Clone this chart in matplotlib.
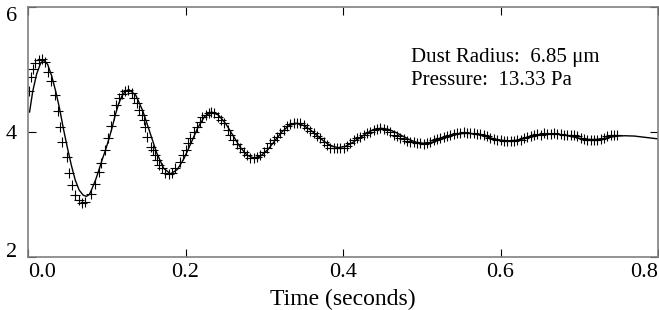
import matplotlib
matplotlib.use("Agg")
import matplotlib.pyplot as plt

meas_t = [0.0019, 0.0044, 0.0061, 0.0095, 0.0137, 0.0180, 0.0213, 0.0248, 0.0286, 0.0340,
          0.0378, 0.0400, 0.0434, 0.0489, 0.0518, 0.0561, 0.0603, 0.0645, 0.0688, 0.0730,
          0.0794, 0.0857, 0.0899, 0.0933, 0.0975, 0.1018, 0.1057, 0.1090, 0.1120, 0.1153,
          0.1196, 0.1238, 0.1272,
          0.1323, 0.1352, 0.1387, 0.1407, 0.1450, 0.1470, 0.1492, 0.1514, 0.1564, 0.1590,
          0.1619, 0.1632, 0.1661, 0.1704, 0.1746, 0.1788, 0.1831, 0.1873, 0.1928, 0.1971,
          0.2000, 0.2034, 0.2063, 0.2105, 0.2140, 0.2182, 0.2212, 0.2254, 0.2296, 0.2330,
          0.2368, 0.2410, 0.2453, 0.2486, 0.2537, 0.2571, 0.2606,
          0.2654, 0.2698, 0.2740, 0.2783, 0.2825, 0.2867, 0.2910, 0.2952, 0.2994, 0.3037,
          0.3079, 0.3121, 0.3164, 0.3206, 0.3248, 0.3291, 0.3333, 0.3375, 0.3418, 0.3460,
          0.3502, 0.3545, 0.3587, 0.3629, 0.3672, 0.3714, 0.3756, 0.3799, 0.3841, 0.3883,
          0.3926,
          0.3968, 0.4010, 0.4053, 0.4095, 0.4137, 0.4180, 0.4222, 0.4264, 0.4307, 0.4349,
          0.4391, 0.4434, 0.4476, 0.4518, 0.4561, 0.4603, 0.4645, 0.4688, 0.4730, 0.4772,
          0.4815, 0.4857, 0.4899, 0.4942, 0.4984, 0.5026, 0.5069, 0.5111, 0.5153, 0.5196,
          0.5238, 0.5280,
          0.5323, 0.5365, 0.5407, 0.5450, 0.5492, 0.5534, 0.5577, 0.5619, 0.5661, 0.5704,
          0.5746, 0.5788, 0.5831, 0.5873, 0.5915, 0.5958, 0.6000, 0.6042, 0.6085, 0.6127,
          0.6169, 0.6212, 0.6254, 0.6296, 0.6339, 0.6381, 0.6423, 0.6466, 0.6508, 0.6550,
          0.6593,
          0.6635, 0.6677, 0.6720, 0.6762, 0.6804, 0.6847, 0.6889, 0.6931, 0.6974, 0.7016,
          0.7058, 0.7101, 0.7143, 0.7185, 0.7228, 0.7270, 0.7312, 0.7355, 0.7397, 0.7439,
          0.7482]
meas_y = [4.66, 4.88, 5.01, 5.10, 5.15, 5.17, 5.12, 4.96, 4.82, 4.59,
          4.34, 4.08, 3.84, 3.60, 3.35, 3.16, 2.99, 2.91, 2.87, 2.88,
          3.01, 3.17, 3.36, 3.50, 3.71, 3.91, 4.10, 4.28, 4.43, 4.54,
          4.61, 4.66, 4.68,
          4.63, 4.54, 4.47, 4.36, 4.27, 4.19, 4.08, 3.92, 3.76, 3.71,
          3.63, 3.55, 3.48, 3.42, 3.35, 3.33, 3.35, 3.42, 3.52, 3.63,
          3.71, 3.83, 3.90, 4.00, 4.08, 4.16, 4.24, 4.27, 4.31, 4.32,
          4.30, 4.24, 4.20, 4.14, 4.04, 3.95, 3.87,
          3.81, 3.75, 3.68, 3.63, 3.59, 3.58, 3.60, 3.63, 3.68, 3.74,
          3.82, 3.87, 3.92, 3.99, 4.04, 4.10, 4.13, 4.15, 4.15, 4.14,
          4.11, 4.06, 4.02, 3.98, 3.94, 3.90, 3.84, 3.79, 3.75, 3.74,
          3.74,
          3.74, 3.75, 3.77, 3.82, 3.87, 3.90, 3.92, 3.95, 3.98, 4.00,
          4.03, 4.05, 4.06, 4.05, 4.03, 4.00, 3.96, 3.94, 3.91, 3.89,
          3.86, 3.84, 3.84, 3.82, 3.82, 3.81, 3.82, 3.84, 3.87, 3.89,
          3.91, 3.92,
          3.94, 3.96, 3.97, 3.98, 3.98, 4.00, 3.99, 3.98, 3.99, 3.97,
          3.97, 3.95, 3.93, 3.91, 3.89, 3.88, 3.87, 3.86, 3.85, 3.86,
          3.86, 3.87, 3.88, 3.90, 3.92, 3.94, 3.95, 3.97, 3.96, 3.98,
          3.97,
          3.97, 3.98, 3.97, 3.97, 3.96, 3.96, 3.95, 3.95, 3.93, 3.91,
          3.89, 3.88, 3.87, 3.88, 3.87, 3.89, 3.90, 3.93, 3.95, 3.96,
          3.95]

# fitted curve
fit_t = [0.002, 0.006, 0.011, 0.016, 0.020, 0.025, 0.030, 0.035, 0.040, 0.045,
         0.050, 0.055, 0.060, 0.065, 0.070, 0.074, 0.078, 0.0815, 0.086, 0.090,
         0.094, 0.0984, 0.103, 0.107, 0.111, 0.1153, 0.1195, 0.1238, 0.128,
         0.1368, 0.1457, 0.1545, 0.1633, 0.1722, 0.181,
         0.1897, 0.1983, 0.207, 0.2157, 0.2243, 0.233,
         0.242, 0.251, 0.260, 0.269, 0.278, 0.287,
         0.2958, 0.3047, 0.3135, 0.3223, 0.3312, 0.340,
         0.349, 0.358, 0.367, 0.376, 0.385, 0.394,
         0.403, 0.412, 0.421, 0.430, 0.439, 0.448,
         0.457, 0.466, 0.475, 0.484, 0.493, 0.502,
         0.511, 0.520, 0.529, 0.538, 0.547, 0.556,
         0.565, 0.574, 0.583, 0.592, 0.601, 0.610,
         0.6192, 0.6283, 0.6375, 0.6467, 0.6558, 0.665,
         0.6735, 0.682, 0.6905, 0.699, 0.7075, 0.716,
         0.723, 0.730, 0.737, 0.744, 0.751, 0.758,
         0.770, 0.780, 0.790, 0.800]
fit_y = [4.32, 4.65, 4.93, 5.10, 5.15, 5.08, 4.90, 4.66, 4.38, 4.05,
         3.75, 3.47, 3.23, 3.07, 2.99, 2.97, 3.00, 3.10, 3.24, 3.39,
         3.55, 3.71, 3.90, 4.08, 4.28, 4.46, 4.58, 4.65, 4.68,
         4.59, 4.34, 4.005, 3.67, 3.42, 3.33,
         3.40, 3.58, 3.825, 4.07, 4.25, 4.32,
         4.27, 4.135, 3.95, 3.765, 3.63, 3.58,
         3.62, 3.72, 3.86, 4.00, 4.10, 4.14,
         4.11, 4.04, 3.945, 3.85, 3.776, 3.75,
         3.77, 3.83, 3.905, 3.98, 4.04, 4.06,
         4.044, 4.00, 3.94, 3.88, 3.836, 3.82,
         3.83, 3.86, 3.90, 3.94, 3.97, 3.98,
         3.972, 3.95, 3.92, 3.89, 3.868, 3.86,
         3.867, 3.888, 3.915, 3.943, 3.963, 3.97,
         3.964, 3.948, 3.925, 3.903, 3.886, 3.88,
         3.884, 3.895, 3.91, 3.925, 3.936, 3.94,
         3.935, 3.92, 3.905, 3.89]

x_ticks = [0.0, 0.2, 0.4, 0.6, 0.8]
x_labels = ["0.0", "0.2", "0.4", "0.6", "0.8"]
y_ticks = [2, 4, 6]
y_labels = ["2", "4", "6"]

plt.rcParams['font.family'] = ['Liberation Serif', 'DejaVu Serif']

fig = plt.figure(figsize=(6.59, 3.10), dpi=100)
ax = fig.add_axes([28 / 659, 53 / 310, 630 / 659, 250 / 310])

ax.plot(fit_t, fit_y, '-', color='black', lw=1.0)
ax.plot(meas_t, meas_y, '+', color='black', ms=7, mew=0.8)

ax.set_xlim(0.0, 0.8)
ax.set_ylim(2, 6)

for s in ax.spines.values():
    s.set_color('#808080')
    s.set_linewidth(1.2)

ax.set_xticks(x_ticks)
ax.set_xticklabels(x_labels)
ax.set_yticks(y_ticks)
ax.set_yticklabels(y_labels)
ax.tick_params(direction='in', length=6, width=0.8, color='black',
               top=True, right=True, labelsize=16)
ax.tick_params(axis='x', pad=4)
ax.tick_params(axis='y', pad=8)

xl = ax.get_xticklabels()
xl[0].set_horizontalalignment('left')
xl[-1].set_horizontalalignment('right')
yl = ax.get_yticklabels()
yl[0].set_verticalalignment('baseline')
yl[-1].set_verticalalignment('top')

ax.set_xlabel("Time (seconds)", fontsize=17, labelpad=5)

ax.text(0.608, 0.78, "Dust Radius:  6.85 μm", transform=ax.transAxes,
        fontsize=15, va='baseline', ha='left')
ax.text(0.608, 0.688, "Pressure:  13.33 Pa", transform=ax.transAxes,
        fontsize=15, va='baseline', ha='left')

fig.savefig("out.png", dpi=100)
